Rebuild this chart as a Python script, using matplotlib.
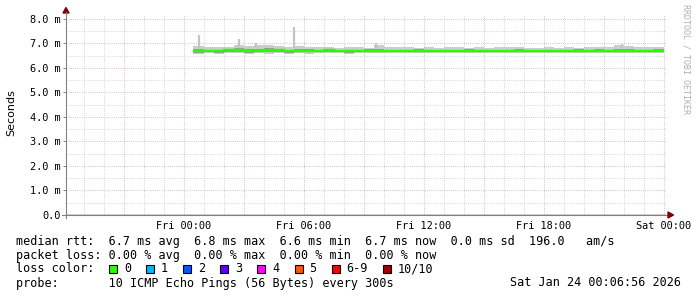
import numpy as np
import matplotlib
matplotlib.use('Agg')
import matplotlib.pyplot as plt
from matplotlib.patches import Rectangle, Polygon
from matplotlib.lines import Line2D

# ---------------- data (hours relative to Fri 00:00, values in ms) ----------------
bin_start = 0.45
bin_step = 0.5
median_ms = [6.68, 6.70, 6.69, 6.72, 6.73, 6.71, 6.70, 6.74, 6.72, 6.69, 6.70, 6.71,
             6.70, 6.72, 6.71, 6.69, 6.70, 6.71, 6.70, 6.69, 6.70, 6.70, 6.71, 6.70,
             6.69, 6.70, 6.70, 6.71, 6.70, 6.70, 6.69, 6.70, 6.71, 6.70, 6.70, 6.69,
             6.70, 6.70, 6.71, 6.70, 6.70, 6.69, 6.70, 6.71, 6.70, 6.70, 6.71]
smoke_hi = [6.88, 6.85, 6.86, 6.84, 6.92, 6.90, 6.95, 6.93, 6.88, 6.86, 6.90, 6.87,
            6.84, 6.86, 6.83, 6.85, 6.84, 6.82, 6.95, 6.86, 6.84, 6.85, 6.82, 6.84,
            6.83, 6.86, 6.84, 6.82, 6.85, 6.83, 6.86, 6.84, 6.85, 6.83, 6.82, 6.84,
            6.83, 6.85, 6.82, 6.84, 6.86, 6.84, 6.92, 6.88, 6.86, 6.85, 6.84]
smoke_lo = [6.58, 6.60, 6.57, 6.62, 6.60, 6.56, 6.60, 6.58, 6.61, 6.58, 6.60, 6.59,
            6.62, 6.60, 6.61, 6.58, 6.62, 6.60, 6.61, 6.62, 6.60, 6.62, 6.61, 6.60,
            6.62, 6.60, 6.61, 6.62, 6.60, 6.61, 6.62, 6.60, 6.61, 6.62, 6.60, 6.61,
            6.62, 6.60, 6.61, 6.62, 6.60, 6.61, 6.60, 6.62, 6.61, 6.60, 6.62]
inner_hi = [6.76, 6.75, 6.74, 6.78, 6.80, 6.77, 6.76, 6.80, 6.77, 6.74, 6.76, 6.76,
            6.74, 6.77, 6.75, 6.74, 6.75, 6.76, 6.77, 6.74, 6.75, 6.74, 6.76, 6.75,
            6.74, 6.75, 6.75, 6.76, 6.74, 6.75, 6.74, 6.75, 6.76, 6.74, 6.75, 6.74,
            6.75, 6.75, 6.76, 6.74, 6.76, 6.74, 6.78, 6.77, 6.75, 6.75, 6.76]
inner_lo = [6.63, 6.64, 6.62, 6.66, 6.66, 6.62, 6.64, 6.66, 6.65, 6.63, 6.64, 6.64,
            6.65, 6.65, 6.65, 6.63, 6.65, 6.64, 6.64, 6.64, 6.64, 6.65, 6.65, 6.64,
            6.64, 6.64, 6.65, 6.65, 6.64, 6.65, 6.64, 6.64, 6.65, 6.65, 6.64, 6.64,
            6.65, 6.64, 6.65, 6.65, 6.64, 6.64, 6.64, 6.65, 6.65, 6.64, 6.65]
spike_hours = [0.78, 2.75, 3.6, 5.5, 9.6, 21.9]
spike_top_ms = [7.35, 7.18, 7.03, 7.69, 7.00, 6.98]

ytick_vals = [0, 1, 2, 3, 4, 5, 6, 7, 8]
ytick_labels = ['0.0', '1.0 m', '2.0 m', '3.0 m', '4.0 m', '5.0 m', '6.0 m', '7.0 m', '8.0 m']
xtick_hours = [0, 6, 12, 18, 24]
xtick_labels = ['Fri 00:00', 'Fri 06:00', 'Fri 12:00', 'Fri 18:00', 'Sat 00:00']

line1 = "median rtt:  6.7 ms avg  6.8 ms max  6.6 ms min  6.7 ms now  0.0 ms sd  196.0   am/s"
line2 = "packet loss: 0.00 % avg  0.00 % max  0.00 % min  0.00 % now"
line3 = "loss color:"
line4 = "probe:       10 ICMP Echo Pings (56 Bytes) every 300s"
stamp = "Sat Jan 24 00:06:56 2026"
loss_labels = ['0', '1', '2', '3', '4', '5', '6-9', '10/10']
loss_colors = ['#26ff00', '#00b8ff', '#0059ff', '#5e00ff', '#ff00ff', '#ff5500', '#ff0000', '#a10000']

# ---------------- layout ----------------
W, H = 697, 297
MONO = 'DejaVu Sans Mono'


def P(x, y):
    return (x / W, 1 - y / H)


fig = plt.figure(figsize=(W / 100, H / 100), dpi=100)
fig.patch.set_facecolor('white')

X0, X1 = -5.884, 24.116
ax = fig.add_axes([66 / W, (H - 215) / H, 600 / W, 200 / H])
ax.set_xlim(X0, X1)
ax.set_ylim(0, 8.163)
ax.set_facecolor('white')
for s in ax.spines.values():
    s.set_visible(False)

dot = (0, (0.72, 1.44))
minor_c = '#cccccc'
major_c = '#d9aaaa'
for h in range(-5, 25):
    ax.axvline(h, color=major_c if h % 3 == 0 else minor_c, lw=0.72, ls=dot, zorder=1)
for v in np.arange(0.5, 8.1, 0.5):
    ax.axhline(v, color=major_c if abs(v - round(v)) < 1e-6 else minor_c, lw=0.72, ls=dot, zorder=1)

edges = np.r_[bin_start, np.arange(1.0, 24.001, bin_step)]
ax.stairs(smoke_hi, edges, baseline=smoke_lo, fill=True, color='#cccccc', zorder=2)
ax.vlines(spike_hours, 6.8, spike_top_ms, color='#c4c4c4', lw=1.6, zorder=2)
ax.stairs(inner_hi, edges, baseline=inner_lo, fill=True, color='#9c9c9c', zorder=3)
ax.stairs(median_ms, edges, baseline=None, color='#26ff00', lw=1.7, zorder=4)

ax.axhline(0, color='black', lw=1.0, zorder=5)

ax.set_yticks(ytick_vals)
ax.set_yticklabels(ytick_labels, family=MONO, fontsize=7.4)
ax.set_xticks(xtick_hours)
ax.set_xticklabels(xtick_labels, family=MONO, fontsize=7.4)
ax.tick_params(axis='y', length=2.2, width=0.7, color='#818181', pad=1.8)
ax.tick_params(axis='x', length=0, pad=4.5)

# axes lines and arrows
fig.add_artist(Line2D([66 / W, 66 / W], [1 - 218 / H, 1 - 12 / H], color='#818181', lw=0.8,
                      transform=fig.transFigure))
fig.add_artist(Line2D([62 / W, 669 / W], [1 - 215 / H, 1 - 215 / H], color='#818181', lw=0.8,
                      transform=fig.transFigure, zorder=0))
fig.add_artist(Polygon([P(66, 7.5), P(63, 13), P(69, 13)], closed=True, color='#7f0000',
                       transform=fig.transFigure))
fig.add_artist(Polygon([P(673.5, 215), P(668, 212), P(668, 218)], closed=True, color='#7f0000',
                       transform=fig.transFigure))

# labels
fig.text(*P(11, 113), 'Seconds', rotation=90, va='center', ha='center', fontsize=8)
fig.text(*P(686, 4), 'RRDTOOL / TOBI OETIKER', rotation=270, va='top', ha='center',
         fontsize=6, color='#b0b0b0', family=MONO)

fs = 8.5
fig.text(*P(16, 241), line1, family=MONO, fontsize=fs, va='center')
fig.text(*P(16, 255), line2, family=MONO, fontsize=fs, va='center')
fig.text(*P(16, 269), line3, family=MONO, fontsize=fs, va='center')
fig.text(*P(16, 283), line4, family=MONO, fontsize=fs, va='center')
fig.text(*P(681, 283), stamp, family=MONO, fontsize=fs, va='center', ha='right')

bx = 109.0
for lab, col in zip(loss_labels, loss_colors):
    fig.add_artist(Rectangle(P(bx, 273), 8 / W, 8 / H, transform=fig.transFigure,
                             facecolor=col, edgecolor='black', lw=0.8))
    fig.text(*P(bx + 15, 269), lab, family=MONO, fontsize=fs, va='center')
    bx += 15 + len(lab) * 7.1 + 15

fig.savefig('out.png', dpi=100, facecolor='white')
